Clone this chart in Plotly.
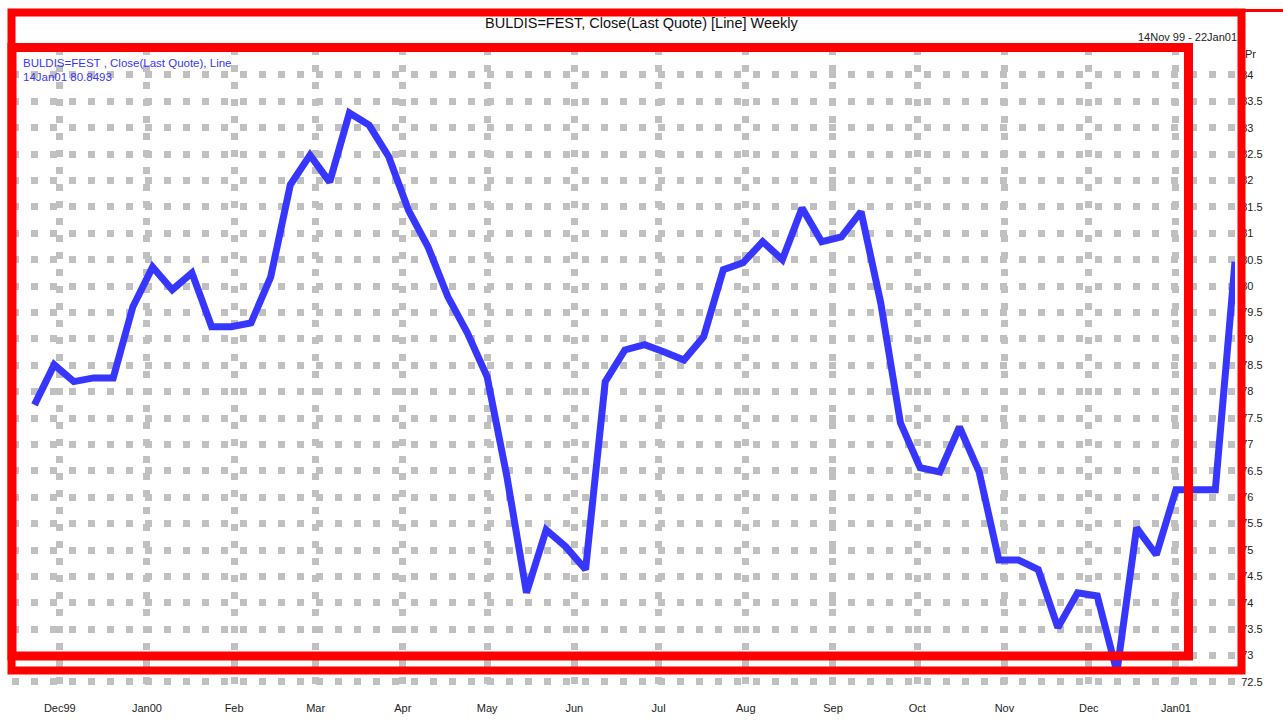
import pandas as pd
import plotly.graph_objects as go

# ---------------- data ----------------
close = [
    77.75, 78.51, 78.19, 78.26, 78.26, 79.61, 80.36, 79.93, 80.25, 79.23,
    79.23, 79.30, 80.17, 81.92, 82.48, 81.97, 83.28, 83.05, 82.45, 81.44,
    80.74, 79.80, 79.11, 78.28, 76.40, 74.19, 75.38, 75.06, 74.63, 78.19,
    78.79, 78.89, 78.75, 78.60, 79.04, 80.31, 80.44, 80.84, 80.50, 81.48,
    80.84, 80.93, 81.41, 79.68, 77.41, 76.56, 76.48, 77.33, 76.48, 74.81,
    74.81, 74.63, 73.53, 74.19, 74.13, 72.69, 75.42, 74.91, 76.14, 76.14,
    76.14, 80.46,
]
week_start = "1999-11-22"
dates = pd.date_range(start=week_start, periods=len(close), freq="7D")

month_ticks = [
    "1999-12-01", "2000-01-01", "2000-02-01", "2000-03-01", "2000-04-01",
    "2000-05-01", "2000-06-01", "2000-07-01", "2000-08-01", "2000-09-01",
    "2000-10-01", "2000-11-01", "2000-12-01", "2001-01-01",
]
month_labels = [
    "Dec99", "Jan00", "Feb", "Mar", "Apr", "May", "Jun", "Jul", "Aug",
    "Sep", "Oct", "Nov", "Dec", "Jan01",
]
price_ticks = [72.5 + 0.5 * k for k in range(24)]
price_labels = [f"{v:g}" for v in price_ticks]

title_text = "BULDIS=FEST, Close(Last Quote) [Line] Weekly"
range_text = "14Nov 99 - 22Jan01"
legend_line1 = "BULDIS=FEST , Close(Last Quote), Line"
legend_line2 = "14Jan01 80.8493"

# ---------------- layout geometry ----------------
W, H = 1283, 726
PL, PR, PT, PB = 12, 1235, 48, 692  # plot area in pixels


def fx(px):
    return (px - PL) / (PR - PL)


def fy(py):
    return (PB - py) / (PB - PT)


FONT = "Liberation Sans, Arial, sans-serif"
BLUE = "#3636FF"
RED = "#FF0000"
GRID = "#C0C0C0"

fig = go.Figure(
    go.Scatter(
        x=dates,
        y=close,
        mode="lines",
        line=dict(color=BLUE, width=7),
        hoverinfo="skip",
        showlegend=False,
    )
)

fig.update_layout(
    width=W,
    height=H,
    autosize=False,
    margin=dict(l=PL, r=W - PR, t=PT, b=H - PB, pad=0),
    paper_bgcolor="white",
    plot_bgcolor="white",
    font=dict(family=FONT, size=11, color="#222222"),
    showlegend=False,
)

fig.update_xaxes(
    type="date",
    range=["1999-11-14", "2001-01-22"],
    tickvals=month_ticks,
    ticktext=month_labels,
    showgrid=True,
    gridcolor=GRID,
    gridwidth=7,
    griddash="7px,10px",
    zeroline=False,
    showline=False,
    ticks="outside",
    ticklen=6,
    tickcolor="rgba(0,0,0,0)",
    tickfont=dict(family=FONT, size=11, color="#222222"),
)

fig.update_yaxes(
    side="right",
    range=[72.31, 84.51],
    tickvals=price_ticks,
    ticktext=price_labels,
    showgrid=True,
    gridcolor=GRID,
    gridwidth=7,
    griddash="7px,12px",
    zeroline=False,
    showline=False,
    ticks="outside",
    ticklen=3,
    tickcolor="rgba(0,0,0,0)",
    tickfont=dict(family=FONT, size=11, color="#222222"),
)

# red highlight rectangles (overlay)
shapes = [
    dict(type="rect", xref="paper", yref="paper",
         x0=fx(11.5), x1=fx(1241.5), y0=fy(670.5), y1=fy(12.5),
         line=dict(color=RED, width=8), layer="above"),
    dict(type="rect", xref="paper", yref="paper",
         x0=fx(12), x1=fx(1188.5), y0=fy(656), y1=fy(47.5),
         line=dict(color=RED, width=9), layer="above"),
    dict(type="line", xref="paper", yref="paper",
         x0=fx(1244), x1=fx(1283), y0=fy(10.5), y1=fy(10.5),
         line=dict(color=RED, width=3), layer="above"),
]
fig.update_layout(shapes=shapes)

annotations = [
    dict(text=title_text, xref="paper", yref="paper", x=fx(642), y=fy(23),
         xanchor="center", yanchor="middle", showarrow=False,
         font=dict(family=FONT, size=14.5, color="#111111")),
    dict(text=range_text, xref="paper", yref="paper", x=fx(1136), y=fy(37),
         xanchor="left", yanchor="middle", showarrow=False,
         font=dict(family=FONT, size=11, color="#222222")),
    dict(text="Pr", xref="paper", yref="paper", x=fx(1243), y=fy(54),
         xanchor="left", yanchor="middle", showarrow=False,
         font=dict(family=FONT, size=11, color="#222222")),
    dict(text=legend_line1, xref="paper", yref="paper", x=fx(21), y=fy(63),
         xanchor="left", yanchor="middle", showarrow=False,
         font=dict(family=FONT, size=11.5, color=BLUE)),
    dict(text=legend_line2, xref="paper", yref="paper", x=fx(21), y=fy(77),
         xanchor="left", yanchor="middle", showarrow=False,
         font=dict(family=FONT, size=11.5, color=BLUE)),
]
fig.update_layout(annotations=annotations)

fig.write_html(
    "out.html",
    config={"displayModeBar": False, "staticPlot": True},
    post_script="document.body.style.margin='0';document.body.style.overflow='hidden';",
)
